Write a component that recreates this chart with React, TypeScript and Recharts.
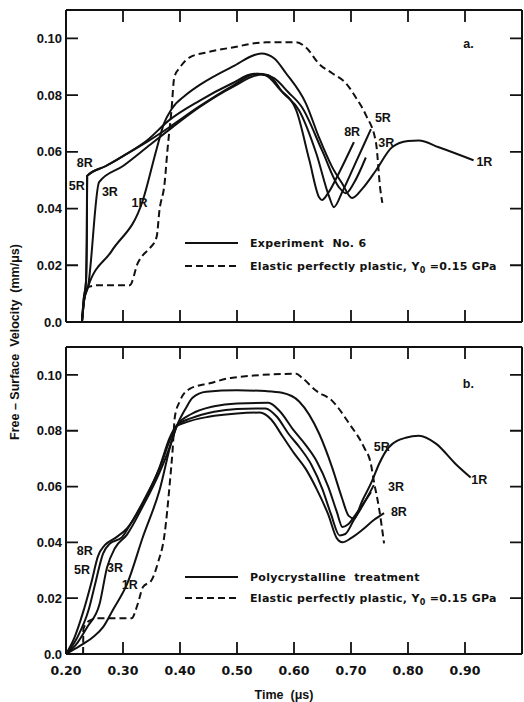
import React from "react";
import { ComposedChart, Line, Scatter, XAxis, YAxis } from "recharts";

// time axis (µs) and velocity axis (mm/µs)
const timeTicks = [0.2, 0.3, 0.4, 0.5, 0.6, 0.7, 0.8, 0.9];
const velTicks = [0, 0.02, 0.04, 0.06, 0.08, 0.1];
const tMin = 0.2;
const tMax = 1.0;
const vMax = 0.11;

// (a) Experiment No. 6 — [t, v]
const expt8R: [number, number][] = [
  [0.228, 0], [0.231, 0.008], [0.235, 0.014], [0.2365, 0.03], [0.237, 0.0515],
  [0.27, 0.055], [0.3, 0.0585], [0.342, 0.064], [0.38, 0.071], [0.434, 0.078],
  [0.49, 0.084], [0.53, 0.0875], [0.55, 0.087], [0.575, 0.082], [0.604, 0.0746],
  [0.627, 0.057], [0.644, 0.044], [0.649, 0.043], [0.66, 0.0455], [0.68, 0.053],
  [0.705, 0.0634],
];
const expt5R: [number, number][] = [
  [0.228, 0], [0.231, 0.008], [0.235, 0.014], [0.2365, 0.03], [0.2372, 0.0515],
  [0.27, 0.055], [0.3, 0.0585], [0.342, 0.0635], [0.38, 0.0685], [0.434, 0.076],
  [0.49, 0.083], [0.535, 0.0875], [0.555, 0.087], [0.58, 0.081], [0.609, 0.0746],
  [0.639, 0.0595], [0.662, 0.044], [0.67, 0.0405], [0.685, 0.046], [0.71, 0.057],
  [0.735, 0.068],
];
const expt3R: [number, number][] = [
  [0.228, 0], [0.232, 0.008], [0.2385, 0.0123], [0.258, 0.0493], [0.3, 0.055],
  [0.342, 0.0616], [0.387, 0.0687], [0.434, 0.0757], [0.492, 0.0828], [0.543, 0.0873],
  [0.565, 0.086], [0.59, 0.081], [0.614, 0.0757], [0.649, 0.0606], [0.679, 0.0475],
  [0.691, 0.0454], [0.705, 0.049], [0.726, 0.058],
];
const expt1R: [number, number][] = [
  [0.228, 0], [0.232, 0.008], [0.2385, 0.0123], [0.28, 0.025], [0.335, 0.043],
  [0.359, 0.061], [0.372, 0.07], [0.385, 0.075], [0.41, 0.08], [0.434, 0.0835],
  [0.492, 0.09], [0.543, 0.0947], [0.565, 0.093], [0.586, 0.0877], [0.621, 0.077],
  [0.644, 0.065], [0.667, 0.0546], [0.684, 0.049], [0.702, 0.0437], [0.72, 0.047],
  [0.744, 0.0535], [0.772, 0.0616], [0.8, 0.0638], [0.819, 0.064], [0.854, 0.0616],
  [0.915, 0.057],
];
const eppA: [number, number][] = [
  [0.228, 0], [0.232, 0.008], [0.2385, 0.0123], [0.26, 0.013], [0.312, 0.013],
  [0.326, 0.0208], [0.335, 0.0236], [0.347, 0.026], [0.359, 0.03], [0.364, 0.0394],
  [0.373, 0.049], [0.378, 0.0606], [0.385, 0.0746], [0.39, 0.0863], [0.4, 0.0898],
  [0.417, 0.0933], [0.446, 0.095], [0.492, 0.0968], [0.551, 0.0986], [0.604, 0.0986],
  [0.621, 0.0968], [0.644, 0.091], [0.667, 0.0877], [0.691, 0.0842], [0.709, 0.079],
  [0.726, 0.073], [0.744, 0.063], [0.751, 0.0475], [0.755, 0.042],
];

// (b) Polycrystalline treatment — [t, v]
const poly8R: [number, number][] = [
  [0.2, 0], [0.215, 0.006], [0.23, 0.015], [0.245, 0.026], [0.256, 0.035],
  [0.268, 0.039], [0.286, 0.0415], [0.307, 0.045], [0.335, 0.054], [0.364, 0.0668],
  [0.382, 0.0775], [0.393, 0.0815], [0.41, 0.083], [0.45, 0.085], [0.5, 0.0862],
  [0.54, 0.0865], [0.56, 0.084], [0.58, 0.078], [0.6, 0.072], [0.62, 0.0665],
  [0.64, 0.059], [0.66, 0.05], [0.675, 0.0415], [0.685, 0.04], [0.7, 0.0415],
  [0.72, 0.0445], [0.74, 0.048], [0.758, 0.0505],
];
const poly5R: [number, number][] = [
  [0.2, 0], [0.22, 0.006], [0.24, 0.016], [0.251, 0.025], [0.265, 0.036],
  [0.277, 0.0396], [0.298, 0.0418], [0.31, 0.0455], [0.335, 0.0545], [0.364, 0.0665],
  [0.385, 0.078], [0.395, 0.082], [0.42, 0.0845], [0.46, 0.0868], [0.5, 0.0878],
  [0.55, 0.088], [0.57, 0.085], [0.59, 0.079], [0.61, 0.074], [0.63, 0.068],
  [0.65, 0.059], [0.665, 0.05], [0.68, 0.0425], [0.69, 0.043], [0.705, 0.048],
  [0.72, 0.053], [0.74, 0.0605],
];
const poly3R: [number, number][] = [
  [0.2, 0], [0.22, 0.004], [0.237, 0.0096], [0.259, 0.018], [0.272, 0.031],
  [0.286, 0.038], [0.307, 0.0428], [0.335, 0.053], [0.364, 0.065], [0.387, 0.077],
  [0.395, 0.082], [0.42, 0.086], [0.46, 0.0888], [0.5, 0.0898], [0.555, 0.09],
  [0.575, 0.087], [0.6, 0.08], [0.62, 0.075], [0.64, 0.069], [0.66, 0.06],
  [0.675, 0.051], [0.685, 0.0455], [0.695, 0.0465], [0.71, 0.0505], [0.735, 0.058],
];
const poly1R: [number, number][] = [
  [0.2, 0], [0.225, 0.003], [0.247, 0.006], [0.265, 0.0096], [0.282, 0.0157],
  [0.307, 0.025], [0.335, 0.042], [0.364, 0.0586], [0.387, 0.0775], [0.395, 0.082],
  [0.41, 0.088], [0.422, 0.0918], [0.446, 0.094], [0.5, 0.0945], [0.55, 0.0942],
  [0.579, 0.0936], [0.609, 0.0905], [0.644, 0.079], [0.667, 0.0668], [0.684, 0.056],
  [0.696, 0.0495], [0.705, 0.0486], [0.72, 0.055], [0.737, 0.062], [0.749, 0.068],
  [0.766, 0.074], [0.796, 0.0775], [0.819, 0.0782], [0.849, 0.0754], [0.884, 0.068],
  [0.91, 0.0632],
];
const eppB: [number, number][] = [
  [0.23, 0], [0.2305, 0.009], [0.24, 0.0118], [0.255, 0.0128], [0.315, 0.0128],
  [0.326, 0.018], [0.335, 0.024], [0.35, 0.0264], [0.361, 0.0325], [0.373, 0.043],
  [0.382, 0.061], [0.387, 0.073], [0.391, 0.085], [0.4, 0.0907], [0.417, 0.095],
  [0.452, 0.097], [0.492, 0.099], [0.604, 0.1004], [0.614, 0.099], [0.639, 0.0943],
  [0.667, 0.0907], [0.697, 0.0825], [0.723, 0.074], [0.735, 0.068], [0.74, 0.062],
  [0.749, 0.0525], [0.758, 0.0396],
];

// curve annotations, in data coordinates
const notesA = [
  { t: 0.233, v: 0.056, text: "8R" },
  { t: 0.219, v: 0.048, text: "5R" },
  { t: 0.277, v: 0.0458, text: "3R" },
  { t: 0.329, v: 0.042, text: "1R" },
  { t: 0.702, v: 0.067, text: "8R" },
  { t: 0.756, v: 0.072, text: "5R" },
  { t: 0.762, v: 0.063, text: "3R" },
  { t: 0.934, v: 0.0565, text: "1R" },
  { t: 0.906, v: 0.098, text: "a." },
];
const notesB = [
  { t: 0.233, v: 0.037, text: "8R" },
  { t: 0.228, v: 0.03, text: "5R" },
  { t: 0.286, v: 0.0307, text: "3R" },
  { t: 0.312, v: 0.0246, text: "1R" },
  { t: 0.754, v: 0.074, text: "5R" },
  { t: 0.779, v: 0.06, text: "3R" },
  { t: 0.784, v: 0.051, text: "8R" },
  { t: 0.925, v: 0.0625, text: "1R" },
  { t: 0.906, v: 0.0968, text: "b." },
];

const ink = "#111";
const font = "'Liberation Sans', Arial, sans-serif";
const wideFont = "'DejaVu Sans', sans-serif";

// chart box (same numbers the ComposedChart gets below)
const W = 524;
const PLOT_LEFT = 66; // y-axis width
const PLOT_RIGHT = W - 2; // right axis width
const PLOT_TOP = 10; // margin 9 + top axis 1
const TICK = 12;

const toPts = (arr: [number, number][]) => arr.map(([t, v]) => ({ t, v }));
const fmtVel = (v: number) => (v === 0 ? "0.0" : v.toFixed(2));

const Note = (props: any) => (
  <text
    x={props.cx}
    y={props.cy}
    textAnchor="middle"
    dominantBaseline="central"
    fontSize={12.5}
    fontWeight={700}
    fontFamily={font}
    fill={ink}
  >
    {props.payload.text}
  </text>
);

// inward tick marks on all four sides, laid over the chart frame
const FrameTicks = ({ plotBottom, height }: { plotBottom: number; height: number }) => {
  const sx = (t: number) => PLOT_LEFT + ((t - tMin) / (tMax - tMin)) * (PLOT_RIGHT - PLOT_LEFT);
  const sy = (v: number) => plotBottom - (v / vMax) * (plotBottom - PLOT_TOP);
  let d = "";
  timeTicks.slice(1).forEach((t) => {
    const x = sx(t);
    d += `M${x},${plotBottom} V${plotBottom - TICK} M${x},${PLOT_TOP} V${PLOT_TOP + TICK} `;
  });
  velTicks.slice(1).forEach((v) => {
    const y = sy(v);
    d += `M${PLOT_LEFT},${y} H${PLOT_LEFT + TICK} M${PLOT_RIGHT},${y} H${PLOT_RIGHT - TICK} `;
  });
  return (
    <svg
      width={W}
      height={height}
      style={{ position: "absolute", left: 0, top: 0, pointerEvents: "none" }}
    >
      <path d={d} stroke={ink} strokeWidth={1.8} fill="none" />
    </svg>
  );
};

type PanelProps = {
  top: number;
  height: number;
  bottomAxisH: number;
  solid: [number, number][][];
  dashed: [number, number][];
  notes: { t: number; v: number; text: string }[];
  showTime: boolean;
};

const Panel = ({ top, height, bottomAxisH, solid, dashed, notes, showTime }: PanelProps) => {
  const axisLine = { stroke: ink, strokeWidth: 2 };
  return (
    <div style={{ position: "absolute", left: 0, top, width: W, height }}>
      <ComposedChart width={W} height={height} margin={{ top: 9, right: 0, bottom: 0, left: 0 }}>
        <XAxis
          type="number"
          dataKey="t"
          domain={[tMin, tMax]}
          ticks={timeTicks}
          interval={0}
          height={bottomAxisH}
          tickSize={0}
          tickMargin={12}
          axisLine={axisLine}
          tickLine={false}
          tickFormatter={(t: number) => t.toFixed(2)}
          tick={showTime ? { fill: ink, fontSize: 12.5, fontWeight: 700, fontFamily: wideFont } : false}
        />
        <XAxis
          xAxisId="top"
          orientation="top"
          type="number"
          domain={[tMin, tMax]}
          ticks={timeTicks}
          height={1}
          axisLine={axisLine}
          tickLine={false}
          tick={false}
        />
        <YAxis
          type="number"
          dataKey="v"
          domain={[0, vMax]}
          ticks={velTicks}
          interval={0}
          width={PLOT_LEFT}
          tickSize={0}
          tickMargin={4}
          axisLine={axisLine}
          tickLine={false}
          tickFormatter={fmtVel}
          tick={{ fill: ink, fontSize: 13, fontWeight: 700, fontFamily: font }}
        />
        <YAxis
          yAxisId="right"
          orientation="right"
          type="number"
          domain={[0, vMax]}
          ticks={velTicks}
          width={W - PLOT_RIGHT}
          axisLine={axisLine}
          tickLine={false}
          tick={false}
        />
        {solid.map((s, i) => (
          <Line
            key={i}
            data={toPts(s)}
            dataKey="v"
            type="monotone"
            stroke={ink}
            strokeWidth={2}
            dot={false}
            activeDot={false}
            isAnimationActive={false}
          />
        ))}
        <Line
          data={toPts(dashed)}
          dataKey="v"
          type="monotone"
          stroke={ink}
          strokeWidth={2}
          strokeDasharray="7 4"
          dot={false}
          activeDot={false}
          isAnimationActive={false}
        />
        <Scatter data={notes} dataKey="v" shape={Note} isAnimationActive={false} />
      </ComposedChart>
      <FrameTicks plotBottom={height - bottomAxisH} height={height} />
    </div>
  );
};

const LegendRow = ({ x, y, dashed, children }: { x: number; y: number; dashed?: boolean; children: React.ReactNode }) => (
  <div
    style={{
      position: "absolute",
      left: x,
      top: y - 9,
      height: 18,
      display: "flex",
      alignItems: "center",
      whiteSpace: "nowrap",
    }}
  >
    <svg width={53} height={18}>
      <line x1={0} x2={53} y1={9} y2={9} stroke={ink} strokeWidth={2} strokeDasharray={dashed ? "7 4" : undefined} />
    </svg>
    <span
      style={{
        marginLeft: 12,
        fontSize: 11,
        fontWeight: 700,
        fontFamily: wideFont,
        letterSpacing: 0.3,
        color: ink,
      }}
    >
      {children}
    </span>
  </div>
);

const eppText = (
  <>
    Elastic perfectly plastic, Y<sub style={{ fontSize: 8, lineHeight: 0 }}>0</sub> =0.15 GPa
  </>
);

export default function App() {
  return (
    <div
      style={{
        position: "absolute",
        left: 0,
        top: 0,
        width: W,
        height: 702,
        background: "#fff",
        fontFamily: font,
        color: ink,
      }}
    >
      <Panel top={0} height={332} bottomAxisH={10} solid={[expt8R, expt5R, expt3R, expt1R]} dashed={eppA} notes={notesA} showTime={false} />
      <Panel top={337} height={360} bottomAxisH={43} solid={[poly8R, poly5R, poly3R, poly1R]} dashed={eppB} notes={notesB} showTime />

      <LegendRow x={185} y={243}>Experiment&nbsp; No. 6</LegendRow>
      <LegendRow x={185} y={266} dashed>{eppText}</LegendRow>
      <LegendRow x={185} y={577}>Polycrystalline&nbsp; treatment</LegendRow>
      <LegendRow x={185} y={598} dashed>{eppText}</LegendRow>

      <div
        style={{
          position: "absolute",
          left: 15,
          top: 342,
          transform: "translate(-50%, -50%) rotate(-90deg)",
          whiteSpace: "nowrap",
          fontSize: 12.5,
          fontWeight: 700,
        }}
      >
        Free – Surface&nbsp; Velocity&nbsp; (mm/μs)
      </div>
      <div
        style={{
          position: "absolute",
          left: 284,
          top: 695,
          transform: "translate(-50%, -50%)",
          whiteSpace: "nowrap",
          fontSize: 12.5,
          fontWeight: 700,
        }}
      >
        Time&nbsp; (μs)
      </div>
    </div>
  );
}
